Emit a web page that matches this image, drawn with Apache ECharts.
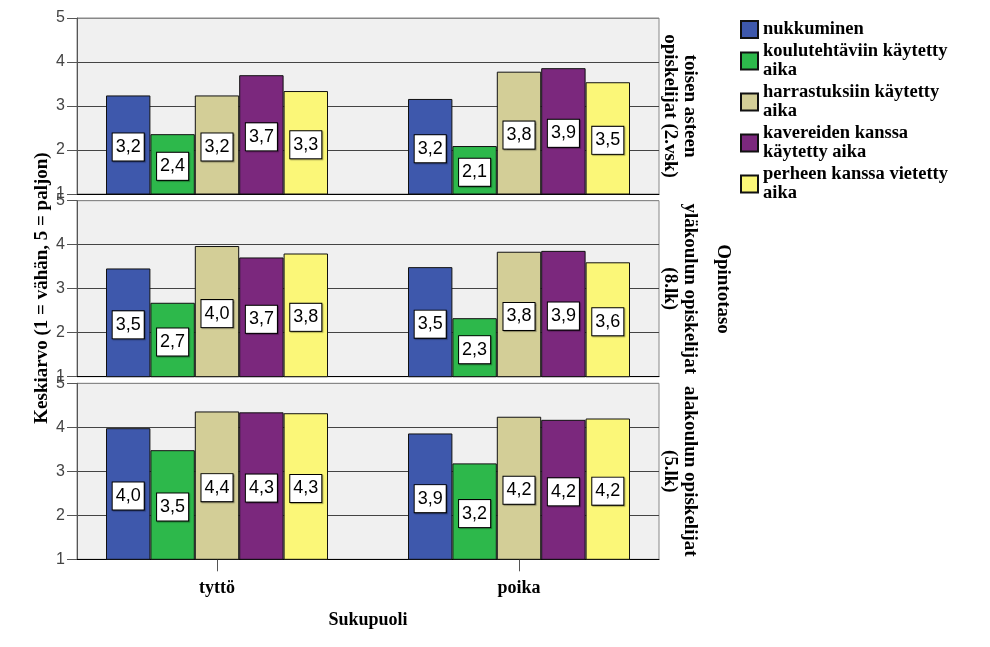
<!DOCTYPE html>
<html><head><meta charset="utf-8">
<script src="https://cdn.jsdelivr.net/npm/echarts@6/dist/echarts.min.js"></script>
<style>html,body{margin:0;padding:0;background:#fff}#c{width:990px;height:647px}</style>
</head><body><div id="c"></div>
<script>
// ---- data ----
const categories = ['tyttö', 'poika'];
const seriesNames = ['nukkuminen', 'koulutehtäviin käytetty aika', 'harrastuksiin käytetty aika', 'kavereiden kanssa käytetty aika', 'perheen kanssa vietetty aika'];
const legendLabels = ['nukkuminen', 'koulutehtäviin käytetty\naika', 'harrastuksiin käytetty\naika', 'kavereiden kanssa\nkäytetty aika', 'perheen kanssa vietetty\naika'];
const panelLabels = ['toisen asteen\nopiskelijat (2.vsk)', 'yläkoulun opiskelijat\n(8.lk)', 'alakoulun opiskelijat\n(5.lk)'];
const yTicks = [1, 2, 3, 4, 5];
// per panel: [tyttö, poika] for each series, in seriesNames order
const toisenAsteen = [[3.24, 3.16], [2.36, 2.09], [3.24, 3.78], [3.70, 3.86], [3.34, 3.54]];
const ylakoulu     = [[3.46, 3.49], [2.68, 2.33], [3.97, 3.84], [3.71, 3.86], [3.80, 3.60]];
const alakoulu     = [[3.98, 3.86], [3.48, 3.18], [4.36, 4.24], [4.34, 4.17], [4.32, 4.20]];
const panels = [toisenAsteen, ylakoulu, alakoulu];

// ---- styles ----
const colors = ['#3e58ac', '#2db84b', '#d3ce97', '#7b287d', '#fbf778'];
const serif = '"Liberation Serif", "Times New Roman", serif';
const sans = '"Liberation Sans", Arial, sans-serif';
const tops = [18, 200.7, 383.3];
const H = 176;

const grid = [], xAxis = [], yAxis = [], series = [];
panels.forEach((p, i) => {
  grid.push({left: 77, width: 582, top: tops[i], height: H, show: true,
    backgroundColor: '#f0f0f0', borderColor: '#888', borderWidth: 1});
});
panels.forEach((p, i) => {
  grid.push({left: 66, width: 604, top: tops[i], height: H, show: false});
});
panels.forEach((p, i) => {
  xAxis.push({type: 'category', gridIndex: i, data: categories,
    axisLine: {show: true, lineStyle: {color: '#000', width: 1}},
    axisTick: {show: false}, axisLabel: {show: false}, splitLine: {show: false}});
  yAxis.push({type: 'value', gridIndex: i, min: yTicks[0], max: yTicks[yTicks.length - 1], interval: 1,
    axisLine: {show: true, lineStyle: {color: '#555'}},
    axisTick: {show: true, length: 10, lineStyle: {color: '#555'}},
    axisLabel: {show: true, margin: 12, color: '#444', fontFamily: sans, fontSize: 16},
    splitLine: {show: true, lineStyle: {color: ['#000', '#444', '#444', '#444', '#888'], width: 1}}});
});
panels.forEach((p, i) => {
  const last = i === panels.length - 1;
  xAxis.push({type: 'category', gridIndex: 3 + i, data: categories,
    axisLine: {show: false},
    axisTick: {show: last, alignWithLabel: true, length: 12, lineStyle: {color: '#555'}},
    axisLabel: {show: last, margin: 20, color: '#000', fontFamily: serif, fontWeight: 'bold', fontSize: 18},
    splitLine: {show: false},
    name: last ? 'Sukupuoli' : '', nameLocation: 'middle', nameGap: 52,
    nameTextStyle: {color: '#000', fontFamily: serif, fontWeight: 'bold', fontSize: 18}});
  yAxis.push({type: 'value', gridIndex: 3 + i, min: 1, max: 5, interval: 1, show: false});
  p.forEach((vals, s) => {
    series.push({
      type: 'bar', name: seriesNames[s], xAxisIndex: 3 + i, yAxisIndex: 3 + i,
      data: vals, barWidth: 44.4, barGap: '0%',
      itemStyle: {color: colors[s], borderColor: '#111', borderWidth: 1},
      label: {show: true, position: 'inside', offset: [0, 2],
        formatter: (d) => d.value.toFixed(1).replace('.', ','),
        color: '#000', fontFamily: sans, fontSize: 18, lineHeight: 20,
        backgroundColor: '#fff', borderColor: '#000', borderWidth: 1, padding: [4, 3, 3, 3],
        shadowColor: 'rgba(0,0,0,0.35)', shadowOffsetX: 1, shadowOffsetY: 1, shadowBlur: 1},
      emphasis: {disabled: true}
    });
  });
});

const graphic = [
  {type: 'text', x: 42, y: 288, rotation: Math.PI / 2,
    style: {text: 'Keskiarvo (1 = vähän, 5 = paljon)', font: 'bold 19px ' + serif, fill: '#000', align: 'center', verticalAlign: 'middle'}},
  {type: 'text', x: 723, y: 289, rotation: -Math.PI / 2,
    style: {text: 'Opintotaso', font: 'bold 19px ' + serif, fill: '#000', align: 'center', verticalAlign: 'middle'}}
];
panelLabels.forEach((t, i) => {
  graphic.push({type: 'text', x: 680, y: tops[i] + H / 2, rotation: -Math.PI / 2,
    style: {text: t, font: 'bold 19px ' + serif, lineHeight: 20, fill: '#000', align: 'center', verticalAlign: 'middle'}});
});

const option = {
  animation: false,
  backgroundColor: '#fff',
  grid, xAxis, yAxis, series, graphic,
  legend: {
    orient: 'vertical', left: 740, top: 20, padding: 0, itemWidth: 17, itemHeight: 17, itemGap: 3,
    icon: 'rect', selectedMode: false, data: seriesNames,
    formatter: (n) => legendLabels[seriesNames.indexOf(n)],
    textStyle: {color: '#000', fontFamily: serif, fontWeight: 'bold', fontSize: 18.5, lineHeight: 19}
  }
};
const chart = echarts.init(document.getElementById('c'), null, {renderer: 'canvas'});
chart.setOption(option);
</script></body></html>
